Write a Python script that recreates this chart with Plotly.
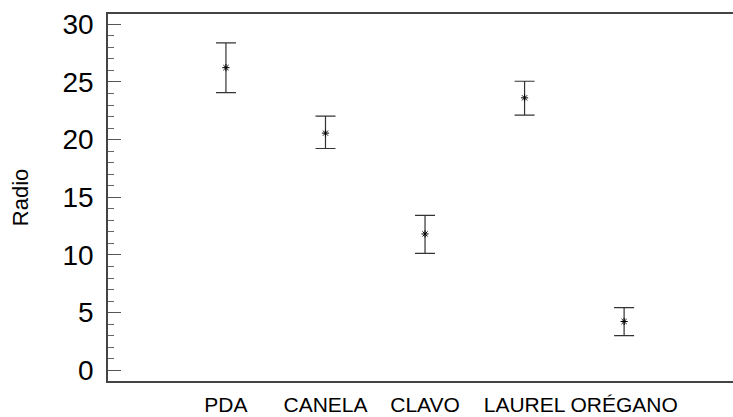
import plotly.graph_objects as go

categories = ["PDA", "CANELA", "CLAVO", "LAUREL", "ORÉGANO"]
means = [26.24, 20.56, 11.82, 23.62, 4.23]
upper = [28.38, 22.03, 13.43, 25.06, 5.44]
lower = [24.08, 19.23, 10.14, 22.12, 3.01]

err_plus = [u - m for u, m in zip(upper, means)]
err_minus = [m - l for m, l in zip(means, lower)]

FONT = "Liberation Sans, Arial, sans-serif"
AX = "#444444"

fig = go.Figure()
fig.add_trace(go.Scatter(
    x=categories, y=means, mode="markers",
    marker=dict(symbol="asterisk-open", size=6, color="black",
                line=dict(width=1, color="black")),
    error_y=dict(type="data", symmetric=False, array=err_plus,
                 arrayminus=err_minus, color="#333333", thickness=1.2, width=10),
    showlegend=False,
))

yr = [-0.93, 30.89]
fig.update_layout(
    width=733, height=417, autosize=False,
    margin=dict(l=108, r=0, t=14, b=36),
    paper_bgcolor="white", plot_bgcolor="white",
    font=dict(family=FONT, color="black"),
    xaxis=dict(
        type="category", range=[-1.185, 5.094],
        showline=True, linecolor=AX, linewidth=1.5, mirror=True,
        ticks="", showgrid=False, zeroline=False, tickangle=0,
        tickfont=dict(size=21, family=FONT, color="black"),
        ticklabelstandoff=4,
    ),
    yaxis=dict(
        range=yr, dtick=5, tick0=0,
        showline=True, linecolor=AX, linewidth=1.5, mirror=False,
        ticks="inside", ticklen=13, tickcolor="#555555", tickwidth=1,
        minor=dict(ticks="inside", ticklen=6, dtick=1, tickcolor="#666666", tickwidth=1),
        showgrid=False, zeroline=False,
        tickfont=dict(size=28, family=FONT, color="black"),
        ticklabelstandoff=7,
        title=dict(text="Radio", font=dict(size=22, family=FONT, color="black"), standoff=28),
    ),
    yaxis2=dict(
        overlaying="y", side="right", anchor="x", range=yr, dtick=5, tick0=0,
        ticks="inside", ticklen=4, tickcolor="#444444", tickwidth=1.5,
        showticklabels=False, showline=False, showgrid=False, zeroline=False,
    ),
)

fig.write_html("out.html", config={"displayModeBar": False},
               post_script="document.body.style.margin='0';document.body.style.overflow='hidden';")
